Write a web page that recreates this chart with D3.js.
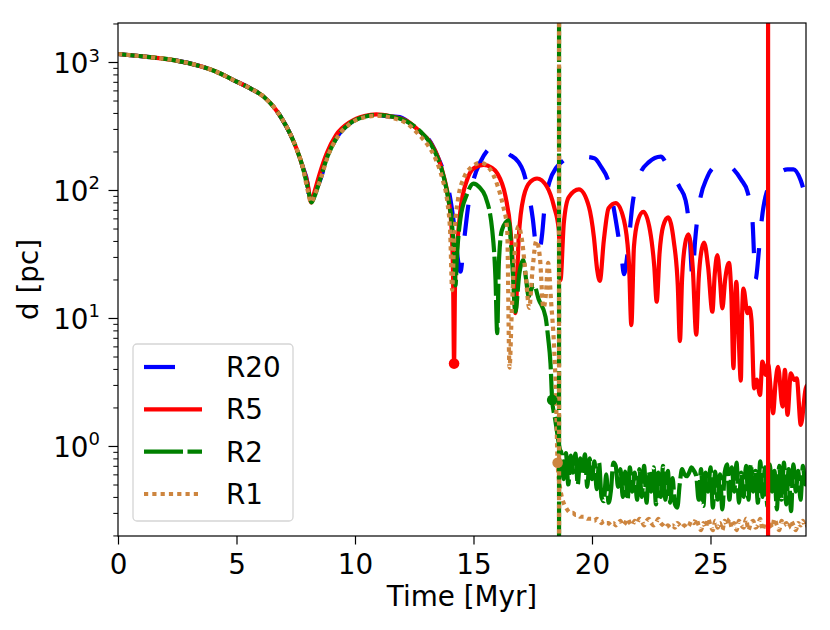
<!DOCTYPE html>
<html>
<head>
<meta charset="utf-8">
<script src="https://cdn.jsdelivr.net/npm/d3@7"></script>
<style>
  body { margin: 0; background: #fff; }
  svg { display: block; font-family: "DejaVu Sans", sans-serif; }
</style>
</head>
<body>
<div id="chart"></div>
<script>
// shared early part of the orbit (all runs overlap here)
const earlyPart = [[0, 1155], [1.35, 1090], [2.35, 1035], [3.45, 930], [4.15, 840], [4.85, 725],
  [5.6, 620], [6.15, 535], [6.55, 450], [6.9, 365], [7.25, 278], [7.55, 206], [7.8, 150]];

const r20 = [[8.0, 112], [8.12, 70], [8.25, 88], [8.55, 122], [8.85, 185], [9.25, 260], [9.8, 333],
  [10.35, 373], [10.9, 385], [11.5, 375], [11.9, 372], [12.2, 345], [12.7, 290], [13.2, 235],
  [13.5, 180], [13.8, 128], [14.0, 90], [14.2, 50], [14.35, 28], [14.45, 23], [14.6, 40], [14.8, 80],
  [15.0, 120], [15.3, 167], [15.6, 205], [15.93, 225], [16.2, 206], [16.5, 190], [16.9, 165],
  [17.1, 140], [17.3, 100], [17.5, 60], [17.65, 35], [17.75, 32], [17.9, 46], [18.0, 74], [18.2, 115],
  [18.5, 150], [18.8, 170], [19.1, 182], [19.6, 182], [20.1, 177], [20.4, 150], [20.65, 123],
  [20.9, 75], [21.1, 45], [21.25, 30], [21.35, 22], [21.5, 32], [21.7, 75], [22.0, 130], [22.4, 165],
  [22.9, 182], [23.3, 139], [23.7, 105], [23.95, 83], [24.1, 52], [24.24, 21], [24.35, 40], [24.5, 72],
  [24.87, 127], [25.2, 155], [25.57, 167], [25.9, 150], [26.3, 120], [26.56, 97], [26.77, 58],
  [26.9, 20], [27.05, 35], [27.15, 56], [27.4, 100], [27.8, 130], [28.25, 145], [28.5, 145],
  [28.8, 120], [29.0, 91], [29.1, 80]];

const r5 = [[8.0, 112], [8.15, 80], [8.3, 98], [8.5, 132], [8.8, 192], [9.2, 268], [9.8, 340],
  [10.4, 378], [10.9, 390], [11.5, 377], [12.2, 345], [12.7, 290], [13.2, 232], [13.5, 180],
  [13.75, 127], [13.95, 83], [14.08, 48], [14.14, 20], [14.18, 4.4], [14.22, 18], [14.28, 30],
  [14.45, 70], [14.73, 120], [15.0, 147], [15.43, 157], [15.75, 150], [16.0, 135], [16.35, 89],
  [16.56, 49], [16.7, 19.8], [16.77, 10.9], [16.91, 43], [17.12, 89], [17.4, 116], [17.68, 123],
  [18.1, 106], [18.4, 74], [18.6, 48.7], [18.67, 19.8], [18.81, 55], [19.02, 88], [19.45, 101],
  [19.87, 74], [20.08, 43], [20.22, 23.7], [20.33, 19.5], [20.5, 40.5], [20.7, 72], [21.0, 79],
  [21.35, 58], [21.56, 26.8], [21.66, 8.8], [21.77, 36], [21.94, 58], [22.17, 67.6], [22.45, 48],
  [22.63, 25], [22.73, 13.4], [22.85, 32], [23.0, 52], [23.21, 61], [23.45, 40], [23.62, 18],
  [23.71, 6.6], [23.8, 20], [23.93, 38], [24.07, 45], [24.25, 25], [24.4, 7.4], [24.5, 20],
  [24.6, 32], [24.73, 38.8], [24.9, 25], [25.08, 11.2], [25.18, 22], [25.29, 31], [25.4, 20],
  [25.5, 11.9], [25.62, 20], [25.78, 27], [25.88, 15], [25.97, 4.05], [26.03, 12], [26.09, 19.2],
  [26.18, 8], [26.28, 3.24], [26.33, 10], [26.39, 17], [26.56, 10.9], [26.64, 12], [26.73, 9.6],
  [26.84, 2.82], [26.95, 3.3], [27.09, 2.5], [27.19, 4.56], [27.33, 3.6], [27.43, 4.4], [27.55, 2.6],
  [27.64, 1.8], [27.75, 3.2], [27.85, 4.16], [28.04, 2.03], [28.14, 3.93], [28.25, 1.75],
  [28.39, 3.7], [28.53, 3.28], [28.64, 3.38], [28.81, 1.46], [29.02, 2.82], [29.1, 3.0]];

const r2 = [[8.0, 105], [8.17, 80], [8.3, 90], [8.55, 125], [8.85, 185], [9.25, 260], [9.8, 333],
  [10.4, 373], [10.95, 385], [11.6, 373], [12.2, 342], [12.76, 286], [13.18, 232], [13.46, 183],
  [13.74, 127], [13.95, 83], [14.1, 52], [14.2, 28], [14.24, 18], [14.3, 30], [14.45, 60], [14.7, 90],
  [15.0, 112], [15.25, 105], [15.5, 89], [15.79, 48.7], [15.93, 19.8], [16.0, 7.6], [16.07, 26.8],
  [16.2, 48.7], [16.48, 58], [16.62, 30], [16.77, 11.2], [16.93, 22], [17.1, 28.4], [17.22, 20],
  [17.33, 14.7], [17.45, 17], [17.55, 18.1], [17.75, 14], [18.04, 10.2], [18.15, 7], [18.25, 4.4],
  [18.32, 2.29], [18.45, 1.6], [18.55, 1.2], [18.65, 0.93]];

const r1 = [[8.0, 100], [8.15, 80], [8.3, 92], [8.55, 122], [8.85, 183], [9.25, 258], [9.8, 330],
  [10.4, 370], [10.95, 380], [11.6, 365], [12.2, 330], [12.7, 270], [13.1, 220], [13.4, 175],
  [13.7, 120], [13.9, 80], [14.02, 45], [14.1, 16.5], [14.18, 40], [14.35, 85], [14.6, 125],
  [14.9, 150], [15.3, 163], [15.7, 145], [16.0, 110], [16.25, 75], [16.42, 50], [16.52, 4.1],
  [16.62, 12], [16.75, 35], [16.9, 52], [17.05, 40], [17.2, 22], [17.35, 12], [17.5, 25],
  [17.65, 40], [17.8, 30], [17.95, 12], [18.05, 15], [18.15, 27], [18.28, 13], [18.4, 6],
  [18.48, 2.5], [18.55, 0.74]];

// after the merger: sampled every 0.1 Myr from 18.7 to 29.1
const tailTimes = d3.range(105).map(i => +(18.7 + i * 0.1).toFixed(1));
const r2Tail = [0.9, 0.55, 0.88, 0.5, 0.84, 0.62, 0.87, 0.5, 0.8, 0.6, 0.86, 0.48, 0.8, 0.55, 0.76, 0.46, 0.74,
  0.4, 0.37, 0.6, 0.36, 0.45,
  0.74, 0.7, 0.48,
  0.66, 0.4, 0.63, 0.38, 0.68, 0.44, 0.62, 0.38, 0.66,
  0.4, 0.7, 0.36, 0.63, 0.44, 0.68, 0.35, 0.62, 0.4, 0.7, 0.38, 0.64, 0.36, 0.56,
  0.35, 0.33, 0.5,
  0.66, 0.6, 0.58, 0.62, 0.68, 0.64, 0.58,
  0.38, 0.66, 0.34, 0.62, 0.44, 0.68, 0.33, 0.63, 0.38, 0.6, 0.32, 0.62,
  0.72, 0.38, 0.68, 0.44, 0.74, 0.36, 0.62, 0.4, 0.7, 0.38, 0.72, 0.44, 0.64, 0.36,
  0.76, 0.4, 0.68, 0.34, 0.72, 0.44, 0.64, 0.32, 0.7, 0.38, 0.74, 0.35, 0.66, 0.31, 0.72, 0.44, 0.64, 0.38, 0.7, 0.5, 0.56];
const r1Tail = [0.42, 0.36, 0.33, 0.31, 0.3, 0.3, 0.29, 0.29, 0.28, 0.28,
  0.28, 0.27, 0.27, 0.27, 0.26, 0.27, 0.26, 0.25, 0.26, 0.25, 0.25, 0.24, 0.25, 0.24,
  0.25, 0.26, 0.24, 0.25, 0.27, 0.25, 0.24, 0.26, 0.25, 0.27, 0.26, 0.24, 0.26, 0.27, 0.25, 0.24,
  0.25, 0.27, 0.25, 0.24, 0.23, 0.24, 0.23, 0.24, 0.23, 0.25, 0.24, 0.23, 0.24, 0.23,
  0.24, 0.26, 0.25, 0.27, 0.24, 0.22, 0.25, 0.23, 0.27, 0.24, 0.22, 0.26, 0.23, 0.25, 0.22, 0.26,
  0.24, 0.27, 0.23, 0.25, 0.22, 0.26, 0.24, 0.23, 0.27, 0.22, 0.25, 0.26, 0.23, 0.24, 0.27, 0.22, 0.25, 0.24,
  0.26, 0.23, 0.27, 0.24, 0.22, 0.26, 0.24, 0.25, 0.23, 0.26, 0.24, 0.22, 0.25, 0.24, 0.26, 0.23, 0.24];

// marked events (circle) and vertical markers
const eventPoints = [["R5", 14.18, 4.4], ["R2", 18.32, 2.29], ["R1", 18.55, 0.74]];
const eventLines = [["R2", 18.61], ["R1", 18.61], ["R5", 27.43]];

const xTicks = [0, 5, 10, 15, 20, 25];
const yTicks = [1, 10, 100, 1000];

const series = [
  { name: "R20", color: "#0000ff", dash: "31,27", points: earlyPart.concat(r20) },
  { name: "R5", color: "#ff0000", dash: null, points: earlyPart.concat(r5) },
  { name: "R2", color: "#008000", dash: "39,4.5", points: earlyPart.concat(r2, tailTimes.map((t, i) => [t, r2Tail[i]])) },
  { name: "R1", color: "#cd853f", dash: "4.2,4.1", points: earlyPart.concat(r1, tailTimes.map((t, i) => [t, r1Tail[i]])) }
];
const byName = Object.fromEntries(series.map(s => [s.name, s]));

const width = 830, height = 630;
const plotLeft = 118, plotRight = 806, plotTop = 23, plotBottom = 536;
const fs = 27.8;
const lw = 4.2;

const x = d3.scaleLinear().domain([0, 29.03]).range([plotLeft, plotRight]);
const y = d3.scaleLog().domain([0.198, 2017]).range([plotBottom, plotTop]);

const svg = d3.select("#chart").append("svg")
  .attr("width", width).attr("height", height);

svg.append("clipPath").attr("id", "plot-clip")
  .append("rect").attr("x", plotLeft).attr("y", plotTop)
  .attr("width", plotRight - plotLeft).attr("height", plotBottom - plotTop);

const plot = svg.append("g").attr("clip-path", "url(#plot-clip)");

const line = d3.line()
  .x(d => x(d[0])).y(d => y(d[1]))
  .curve(d3.curveMonotoneX);

series.forEach(s => {
  plot.append("path")
    .attr("d", line(s.points))
    .attr("fill", "none")
    .attr("stroke", s.color)
    .attr("stroke-width", lw)
    .attr("stroke-dasharray", s.dash)
    .attr("stroke-linejoin", "round");
});

// vertical markers
eventLines.forEach(([name, t]) => {
  const s = byName[name];
  plot.append("line")
    .attr("x1", x(t)).attr("x2", x(t))
    .attr("y1", plotTop).attr("y2", plotBottom)
    .attr("stroke", s.color)
    .attr("stroke-width", lw)
    .attr("stroke-dasharray", s.dash);
});

eventPoints.forEach(([name, t, d]) => {
  plot.append("circle")
    .attr("cx", x(t)).attr("cy", y(d)).attr("r", 5.3)
    .attr("fill", byName[name].color);
});

// x axis
const xAxis = svg.append("g")
  .attr("transform", `translate(0,${plotBottom})`)
  .call(d3.axisBottom(x).tickValues(xTicks).tickSize(8.5).tickPadding(9.5).tickFormat(d3.format("d")));
xAxis.select(".domain").remove();
xAxis.selectAll("line").attr("stroke", "#000").attr("stroke-width", 1.2);
xAxis.selectAll("text").attr("font-size", fs).attr("font-family", "DejaVu Sans").attr("fill", "#000");

// y axis: minor ticks
const minors = [];
[0.1, 1, 10, 100, 1000].forEach(base => {
  for (let k = 2; k <= 9; k++) {
    const v = base * k;
    if (v >= 0.198 && v <= 2017) minors.push(v);
  }
});
const yMinor = svg.append("g").attr("transform", `translate(${plotLeft},0)`)
  .call(d3.axisLeft(y).tickValues(minors).tickSize(4.7).tickFormat(""));
yMinor.select(".domain").remove();
yMinor.selectAll("line").attr("stroke", "#000").attr("stroke-width", 1);

const yMajor = svg.append("g").attr("transform", `translate(${plotLeft},0)`)
  .call(d3.axisLeft(y).tickValues(yTicks).tickSize(9.5).tickFormat(""));
yMajor.select(".domain").remove();
yMajor.selectAll("line").attr("stroke", "#000").attr("stroke-width", 1.2);

yTicks.forEach(v => {
  const t = svg.append("text")
    .attr("x", 100).attr("y", y(v) + 11)
    .attr("text-anchor", "end")
    .attr("font-size", fs)
    .text("10");
  t.append("tspan")
    .attr("dy", -11.5)
    .attr("font-size", 18)
    .text(Math.round(Math.log10(v)));
});

// frame
svg.append("rect")
  .attr("x", plotLeft).attr("y", plotTop)
  .attr("width", plotRight - plotLeft).attr("height", plotBottom - plotTop)
  .attr("fill", "none").attr("stroke", "#000").attr("stroke-width", 1.2);

// axis labels
svg.append("text")
  .attr("x", (plotLeft + plotRight) / 2).attr("y", 606)
  .attr("text-anchor", "middle").attr("font-size", fs)
  .text("Time [Myr]");
svg.append("text")
  .attr("transform", `translate(38,${(plotTop + plotBottom) / 2}) rotate(-90)`)
  .attr("text-anchor", "middle").attr("font-size", fs)
  .text("d [pc]");

// legend
const legend = svg.append("g");
legend.append("rect")
  .attr("x", 133).attr("y", 344).attr("width", 160).attr("height", 177).attr("rx", 4)
  .attr("fill", "#fff").attr("fill-opacity", 0.8)
  .attr("stroke", "#d5d5d5").attr("stroke-width", 1.3);
const legendY = d3.scalePoint().domain(series.map(s => s.name)).range([367, 494]);
series.forEach(s => {
  const ly = legendY(s.name);
  legend.append("line")
    .attr("x1", 144).attr("x2", 202).attr("y1", ly).attr("y2", ly)
    .attr("stroke", s.color).attr("stroke-width", lw)
    .attr("stroke-dasharray", s.dash);
  legend.append("text")
    .attr("x", 226).attr("y", ly + 10)
    .attr("font-size", fs)
    .text(s.name);
});
</script>
</body>
</html>
